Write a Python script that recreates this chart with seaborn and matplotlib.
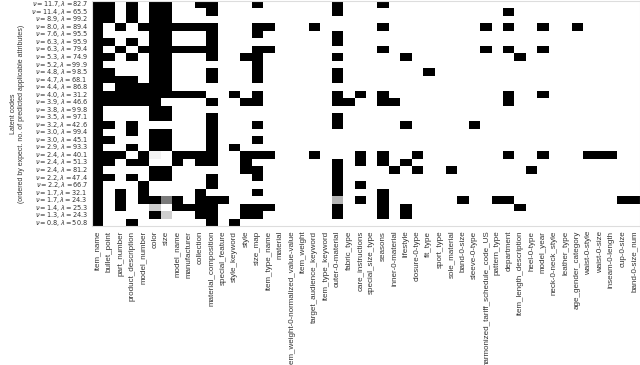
import numpy as np
import pandas as pd
import seaborn as sns
import matplotlib.pyplot as plt

# attribute columns (x axis)
attributes = ['item_name', 'bullet_point', 'part_number', 'product_description', 'model_number',
              'color', 'size', 'model_name', 'manufacturer', 'collection', 'material_composition',
              'special_feature', 'style_keyword', 'style', 'size_map', 'item_type_name', 'material',
              'item_weight-0-normalized_value-value', 'item_weight', 'target_audience_keyword',
              'item_type_keyword', 'outer-0-material', 'fabric_type', 'care_instructions',
              'special_size_type', 'seasons', 'inner-0-material', 'lifestyle', 'closure-0-type',
              'fit_type', 'sport_type', 'sole_material', 'band-0-size', 'sleeve-0-type',
              'harmonized_tariff_schedule_code_US', 'pattern_type', 'department',
              'item_length_description', 'heel-0-type', 'model_year', 'neck-0-neck_style',
              'leather_type', 'age_gender_category', 'waist-0-style', 'waist-0-size',
              'inseam-0-length', 'cup-0-size', 'band-0-size_num']

# latent codes (y axis): expected no. of applicable attributes and lambda
nu = [11.7, 11.4, 8.9, 8.0, 7.6, 6.3, 6.3, 5.3, 5.2, 4.8, 4.7, 4.4, 4.0, 3.9, 3.8,
      3.5, 3.2, 3.0, 3.0, 2.9, 2.4, 2.4, 2.4, 2.2, 2.2, 1.7, 1.7, 1.4, 1.3, 0.8]
lam = [82.7, 65.5, 99.2, 89.4, 95.5, 95.9, 79.4, 74.9, 99.9, 98.5, 68.1, 86.8, 31.2, 46.6, 99.8,
       97.1, 42.6, 99.4, 45.1, 93.3, 40.1, 51.3, 81.2, 47.4, 66.7, 32.1, 24.3, 25.3, 24.3, 50.8]

# predicted applicability per code: '#' = 1, '.' = 0, digit d = d/10
codes = [
    '##.#.##..##...#......#...#......................',
    '##.#.##...#..........#..............#...........',
    '##.#.##.........................................',
    '#.#.#######...##...#.....#........#.#..#..#.....',
    '#....##...#...#......#..........................',
    '##.#.##...#..........#..........................',
    '#.#.#######...##.........#........#.#..#........',
    '##.#.##...#..##......#.....#.........#..........',
    '#....##.......#.................................',
    '##...##...#...#......#.......#..................',
    '####.##...#...#......#..........................',
    '#.#####.........................................',
    '##########..#.#......#.#.#..........#..#........',
    '######....#..##......##..##.........#...........',
    '#....##.........................................',
    '#....##...#..........#..........................',
    '##.#......#...#......#.....#.....#..............',
    '#..#.##...#.....................................',
    '##...##...#...#.................................',
    '#..#.##...#.#...................................',
    '###.#1.####..###...#...#.#..#.......#..#...###..',
    '##.##..#.##..#.......#.#.#.#....................',
    '#....##......##......#....#.#..#......#.........',
    '##.#.##...#...#......#..........................',
    '#...#.....#..........#.#........................',
    '#.#.#....#....#......#...#......................',
    '#.#.##6#.###.........4.#.#......#..##.........##',
    '#.#..3.####..###.....#...#.#.........#..........',
    '#....#3..##..##......#...#.#....................',
    '#..#......#.#...................................',
]


def to_value(ch):
    if ch == '#':
        return 1.0
    if ch == '.':
        return 0.0
    return int(ch) / 10


row_labels = [r'$\nu = {:.1f}, \lambda = {:.1f}$'.format(n, l) for n, l in zip(nu, lam)]
df = pd.DataFrame([[to_value(c) for c in row] for row in codes],
                  index=row_labels, columns=attributes)

sns.set_style('white')
plt.rcParams['font.family'] = ['Liberation Sans', 'DejaVu Sans']

fig = plt.figure(figsize=(6.4, 3.65), dpi=100)
ax = fig.add_axes([92 / 640, 1 - 226.5 / 365, 548 / 640, 226 / 365])
sns.heatmap(df, ax=ax, cmap='Greys', vmin=0, vmax=1, cbar=False,
            xticklabels=True, yticklabels=True)
ax.tick_params(axis='both', length=0, pad=3)
ax.set_xticklabels(attributes, rotation=90, fontsize=5.8, color='#333333')
ax.set_yticklabels(row_labels, rotation=0, fontsize=4.7, color='#333333')
ax.set_ylabel('Latent codes\n(ordered by expect. no. of predicted applicable attributes)',
              fontsize=5.0, color='#333333', labelpad=4)
for s in ax.spines.values():
    s.set_visible(True)
    s.set_color('#dddddd')
    s.set_linewidth(0.8)

fig.savefig('out.png', dpi=100)
